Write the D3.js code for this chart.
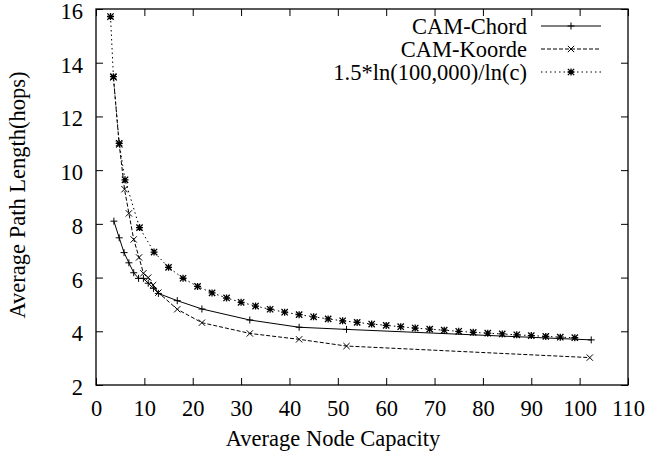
<!DOCTYPE html>
<html><head><meta charset="utf-8">
<script src="https://cdn.jsdelivr.net/npm/d3@7"></script>
<style>body{margin:0;background:#fff}svg{display:block}svg text{font-family:"Liberation Serif","Times New Roman",Times,"DejaVu Serif",serif !important;fill:#000}</style>
</head><body>
<script>
const xTicks = [0,10,20,30,40,50,60,70,80,90,100,110];
const yTicks = [2,4,6,8,10,12,14,16];
const seriesNames = ["CAM-Chord","CAM-Koorde","1.5*ln(100,000)/ln(c)"];
const chordX = [3.7,4.8,5.8,6.8,7.8,8.8,9.8,10.8,11.9,12.9,16.8,21.9,31.8,42,51.8,102.4];
const chordY = [8.1,7.48,6.93,6.55,6.18,5.97,5.97,5.79,5.6,5.41,5.14,4.83,4.42,4.15,4.07,3.68];
const koordeX = [3.6,4.8,5.9,6.8,7.8,8.9,9.8,10.8,11.8,12.9,16.8,21.9,31.8,42,51.8,102.1];
const koordeY = [13.45,10.95,9.29,8.39,7.42,6.75,6.16,6.0,5.72,5.44,4.82,4.32,3.92,3.70,3.45,3.02];
const boundX = [3,3.6,4.8,6,9,12,15,18,21,24,27,30,33,36,39,42,45,48,51,54,57,60,63,66,69,72,75,78,81,84,87,90,93,96,99];
const boundY = [15.72,13.48,11.0,9.64,7.86,6.95,6.38,5.975,5.67,5.43,5.24,5.08,4.94,4.82,4.71,4.62,4.54,4.46,4.39,4.33,4.27,4.22,4.17,4.12,4.08,4.04,4.0,3.96,3.93,3.9,3.87,3.84,3.81,3.78,3.76];

const W=649,H=457, L=96,R=628,T=9,B=385;
const FF='"Liberation Serif","Times New Roman",Times,"DejaVu Serif",serif';
const svg=d3.select("body").append("svg").attr("width",W).attr("height",H).attr("font-family",FF);
const x=d3.scaleLinear().domain([0,110]).range([L,R]);
const y=d3.scaleLinear().domain([2,16]).range([B,T]);
const fs=22.5;

const tk=7;
const gx=svg.append("g").attr("transform",`translate(0,${B})`)
  .call(d3.axisBottom(x).tickValues(xTicks).tickSize(-tk).tickPadding(15).tickFormat(d3.format("d")));
const gxt=svg.append("g").attr("transform",`translate(0,${T})`)
  .call(d3.axisTop(x).tickValues(xTicks).tickSize(-tk).tickFormat(""));
const gy=svg.append("g").attr("transform",`translate(${L},0)`)
  .call(d3.axisLeft(y).tickValues(yTicks).tickSize(-tk).tickPadding(13).tickFormat(d3.format("d")));
const gyr=svg.append("g").attr("transform",`translate(${R},0)`)
  .call(d3.axisRight(y).tickValues(yTicks).tickSize(-tk).tickFormat(""));
[gx,gxt,gy,gyr].forEach(g=>{
  g.attr("font-family",FF).attr("font-size",fs);
  g.select(".domain").remove();
  g.selectAll("line").attr("stroke","#000").attr("stroke-width",1);
  g.selectAll("text").attr("font-family",FF).attr("font-size",fs);
});
gy.selectAll("text").attr("dy","0.42em");
svg.append("rect").attr("x",L).attr("y",T).attr("width",R-L).attr("height",B-T)
  .attr("fill","none").attr("stroke","#000").attr("stroke-width",1.3);

svg.append("text").attr("x",333).attr("y",446).attr("text-anchor","middle")
  .attr("font-size",fs).text("Average Node Capacity");
svg.append("text").attr("transform",`translate(25,195) rotate(-90)`).attr("text-anchor","middle")
  .attr("font-size",fs).text("Average Path Length(hops)");

const line=d3.line().x(d=>x(d[0])).y(d=>y(d[1]));
const s=3.5;
function plusPath(cx,cy){return `M${cx-s},${cy}H${cx+s}M${cx},${cy-s}V${cy+s}`;}
function crossPath(cx,cy){const a=s*0.9;return `M${cx-a},${cy-a}L${cx+a},${cy+a}M${cx-a},${cy+a}L${cx+a},${cy-a}`;}
function starPath(cx,cy){return plusPath(cx,cy)+crossPath(cx,cy);}

const series=[
  {xs:chordX,ys:chordY,dash:null,mk:plusPath,mw:1},
  {xs:koordeX,ys:koordeY,dash:"4,2",mk:crossPath,mw:1},
  {xs:boundX,ys:boundY,dash:"1.5,3",mk:starPath,mw:1.3}
];
series.forEach((sr,i)=>{
  const pts=sr.xs.map((v,j)=>[v,sr.ys[j]]);
  svg.append("path").attr("d",line(pts)).attr("fill","none").attr("stroke","#000")
    .attr("stroke-width",1).attr("stroke-dasharray",sr.dash);
  svg.append("path").attr("d",pts.map(p=>sr.mk(x(p[0]),y(p[1]))).join(""))
    .attr("fill","none").attr("stroke","#000").attr("stroke-width",sr.mw);
  const ly=26+i*23;
  svg.append("text").attr("x",527).attr("y",ly).attr("dy","0.35em").attr("text-anchor","end")
    .attr("font-size",fs).text(seriesNames[i]);
  svg.append("line").attr("x1",541).attr("x2",601).attr("y1",ly).attr("y2",ly)
    .attr("stroke","#000").attr("stroke-width",1).attr("stroke-dasharray",sr.dash);
  svg.append("path").attr("d",sr.mk(571,ly)).attr("fill","none").attr("stroke","#000").attr("stroke-width",sr.mw);
});
</script>
</body></html>
